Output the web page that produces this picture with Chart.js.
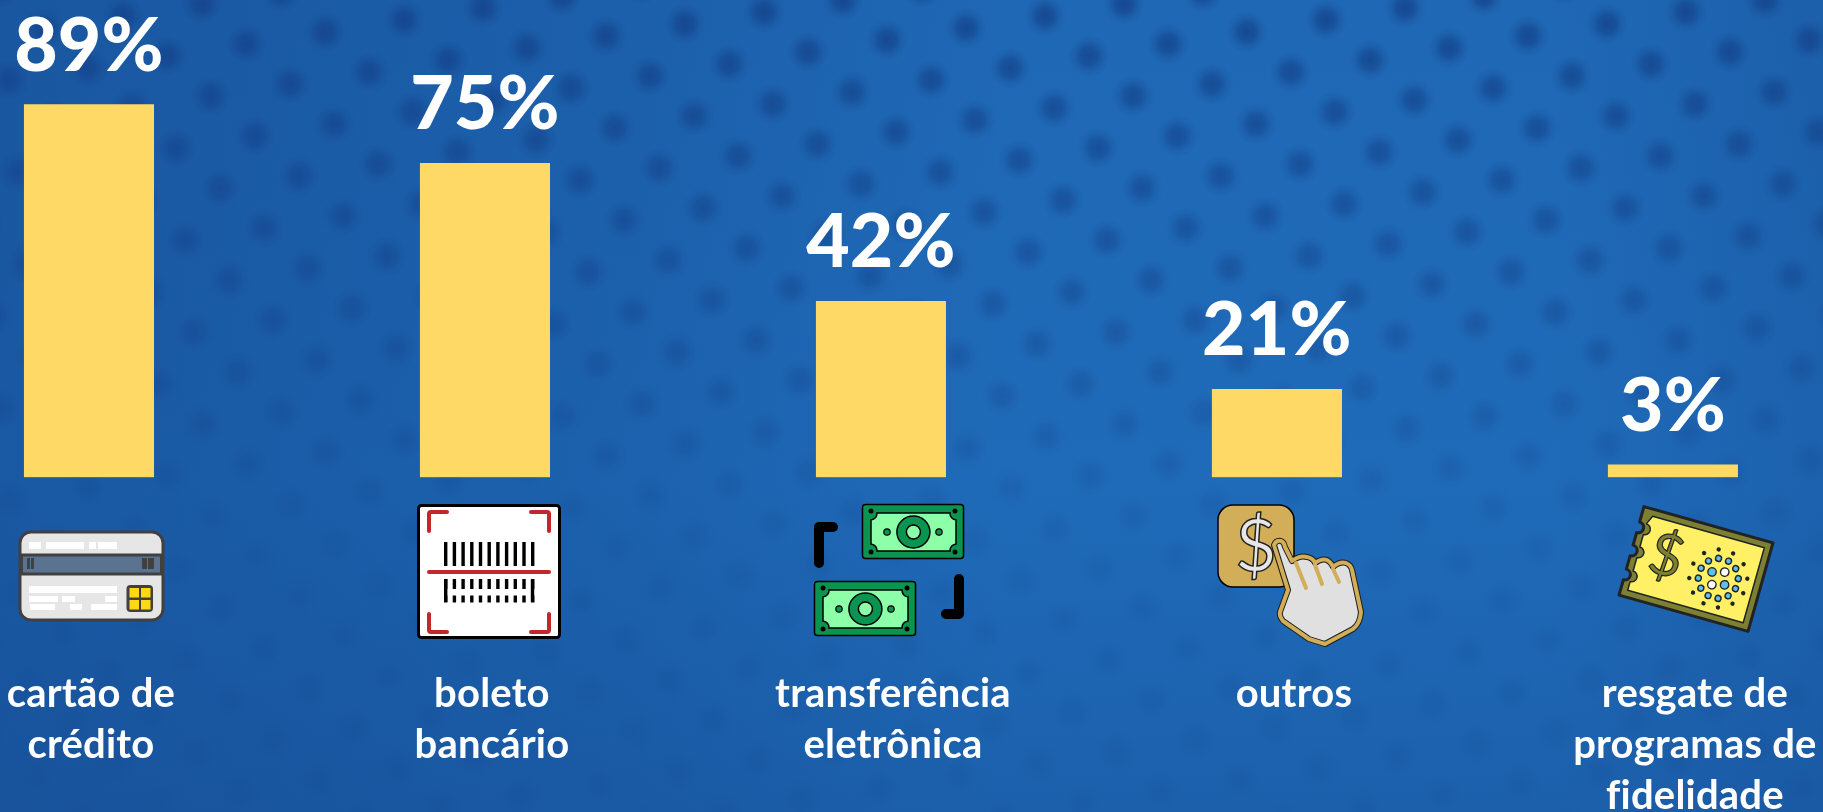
<!DOCTYPE html>
<html lang="pt-BR">

<head>
  <meta charset="utf-8">
  <title>Formas de pagamento</title>
  <script src="https://cdn.jsdelivr.net/npm/chart.js"></script>
  <style>
    html, body { margin: 0; padding: 0; background: #1b5ba6; overflow: hidden; }
    #wrap { position: relative; width: 1823px; height: 812px; }
    #myChart { position: absolute; left: 0; top: 0; }
    #icons { position: absolute; left: 0; top: 0; }
  </style>
</head>

<body>
  <div id="wrap">
    <canvas id="myChart" width="1823" height="812"></canvas>

    <!-- icons under each bar -->
    <svg id="icons" width="1823" height="812" viewBox="0 0 1823 812" font-family="Lato" aria-hidden="true">
      <!-- credit card -->
      <rect x="20" y="532" width="143" height="88" rx="11" fill="#e6e6e6" stroke="#404040" stroke-width="3" />
      <rect x="21.5" y="555" width="140" height="19" fill="#5a7391" stroke="#404040" stroke-width="3" />
      <g fill="#fff">
        <rect x="29" y="542" width="12" height="7" /><rect x="46" y="542" width="38" height="7" />
        <rect x="89" y="542" width="7" height="7" /><rect x="98" y="542" width="19" height="7" />
        <rect x="29" y="586" width="88" height="7" />
        <rect x="29" y="596" width="29" height="6" /><rect x="62" y="596" width="13" height="6" /><rect x="105" y="596" width="12" height="6" />
        <rect x="30" y="604" width="25" height="6" /><rect x="70" y="604" width="12" height="6" /><rect x="91" y="604" width="26" height="6" />
      </g>
      <g fill="#404040">
        <rect x="27" y="558" width="3" height="11" /><rect x="31" y="558" width="3" height="11" />
        <rect x="142" y="558" width="5" height="11" /><rect x="148" y="558" width="6" height="11" />
        <rect x="126.5" y="585" width="26.5" height="27" rx="4" />
      </g>
      <g fill="#ffd814">
        <rect x="129.5" y="588" width="9.5" height="9.5" /><rect x="141" y="588" width="9.5" height="9.5" />
        <rect x="129.5" y="600" width="9.5" height="9.5" /><rect x="141" y="600" width="9.5" height="9.5" />
      </g>

      <!-- barcode -->
      <rect x="418.5" y="505.5" width="141" height="132" rx="3" fill="#fff" stroke="#000" stroke-width="3" />
      <g fill="none" stroke="#c1272d" stroke-width="4" stroke-linecap="round" stroke-linejoin="round">
        <path d="M429,531 V514 Q429,512 431,512 H447" />
        <path d="M531,512 H547 Q549,512 549,514 V531" />
        <path d="M429,614 V630 Q429,632 431,632 H447" />
        <path d="M531,632 H547 Q549,632 549,630 V614" />
        <path d="M429,572 H549" />
      </g>
      <g fill="none" stroke="#000">
        <line x1="444" y1="554" x2="535" y2="554" stroke-width="24" stroke-dasharray="3.4 5.3" />
        <line x1="444" y1="584" x2="535" y2="584" stroke-width="10" stroke-dasharray="3.4 5.3" />
        <line x1="444" y1="599" x2="535" y2="599" stroke-width="7" stroke-dasharray="3.4 5.3" />
        <line x1="445.7" y1="579" x2="445.7" y2="602" stroke-width="3.4" />
        <line x1="532.5" y1="579" x2="532.5" y2="602" stroke-width="3.4" />
      </g>

      <!-- transfer: two notes and two brackets -->
      <g id="note">
        <rect x="862.5" y="504.5" width="101" height="54" rx="3" fill="#0b9350" stroke="#000" stroke-width="1.5" />
        <path d="M877,513 H950 Q950,519 956,520 V544 Q950,545 950,551 H877 Q877,545 871,544 V520 Q877,519 877,513 Z" fill="#8dffa9" stroke="#000" stroke-width="1.5" />
        <ellipse cx="913.4" cy="532" rx="16.5" ry="16" fill="#0b9350" stroke="#000" stroke-width="1.5" />
        <ellipse cx="913.4" cy="532" rx="7" ry="7" fill="#8dffa9" stroke="#000" stroke-width="1.5" />
        <circle cx="887" cy="532" r="3.2" fill="#0b9350" stroke="#000" stroke-width="1.2" />
        <circle cx="939" cy="532" r="3.2" fill="#0b9350" stroke="#000" stroke-width="1.2" />
        <circle cx="871" cy="511" r="2.5" fill="#000" /><circle cx="955" cy="511" r="2.5" fill="#000" />
        <circle cx="871" cy="552" r="2.5" fill="#000" /><circle cx="955" cy="552" r="2.5" fill="#000" />
      </g>
      <use href="#note" x="-48" y="77" />
      <path d="M819,563 V527 H833 M959,579 V614 H946" fill="none" stroke="#000" stroke-width="10" stroke-linecap="round" stroke-linejoin="round" />

      <!-- dollar button with hand -->
      <rect x="1218" y="505" width="76" height="82" rx="15" fill="#d1ae57" stroke="#000" stroke-width="1.5" />
      <text x="1256" y="571" text-anchor="middle" font-size="72" fill="#e6e6e6" stroke="#222" stroke-width="1.5">$</text>
      <path d="M1274,545 Q1276,540 1281,541 Q1284,542 1285,547 L1292,561 Q1300,555 1307,557 Q1313,558 1315,563 Q1322,558 1327,560 Q1331,562 1333,567 Q1340,561 1346,563 Q1351,565 1352,570 L1361,612 Q1360,624 1353,629 L1325,644 L1309,639 L1283,621 Q1279,616 1280,612 L1288,590 Z" fill="#e0e0e0" stroke="#1c1c1c" stroke-width="6" stroke-linejoin="round" />
      <path d="M1274,545 Q1276,540 1281,541 Q1284,542 1285,547 L1292,561 Q1300,555 1307,557 Q1313,558 1315,563 Q1322,558 1327,560 Q1331,562 1333,567 Q1340,561 1346,563 Q1351,565 1352,570 L1361,612 Q1360,624 1353,629 L1325,644 L1309,639 L1283,621 Q1279,616 1280,612 L1288,590 Z" fill="none" stroke="#d1ae57" stroke-width="4" stroke-linejoin="round" />
      <path d="M1296,563 L1306,588 M1315,565 L1322,584 M1333,569 L1339,582" fill="none" stroke="#d1ae57" stroke-width="4" stroke-linecap="round" />

      <!-- coupon -->
      <g transform="translate(1696,569) rotate(15.7)">
        <path d="M-67,-46 H67 V46 H-67 V30 a5.5,5.5 0 0 0 0,-11 V5 a5.5,5.5 0 0 0 0,-11 V-19 a5.5,5.5 0 0 0 0,-11 Z" fill="#7c8032" stroke="#222" stroke-width="3" stroke-linejoin="round" />
        <path d="M-56,-39 H60 V39 H-60 V30 a5.5,5.5 0 0 0 0,-11 V5 a5.5,5.5 0 0 0 0,-11 V-19 a5.5,5.5 0 0 0 0,-11 Z" fill="#fff066" stroke="#222" stroke-width="1.5" stroke-linejoin="round" />
        <text x="-32" y="15" text-anchor="middle" font-size="58" fill="#7c8032" stroke="#222" stroke-width="1.2">$</text>
        <g id="dots" transform="translate(24,3)"></g>
      </g>
    </svg>
  </div>

  <script>
    const categories = [
      ['cartão de', 'crédito'],
      ['boleto', 'bancário'],
      ['transferência', 'eletrônica'],
      ['outros'],
      ['resgate de', 'programas de', 'fidelidade']
    ];
    const values = [89, 75, 42, 21, 3];

    // the dots of the coupon icon
    let dotsHtml = '';
    for (let i = 0; i < 12; i++) {
      const a = (i * 30 + 15) * Math.PI / 180;
      dotsHtml += `<circle cx="${29 * Math.cos(a)}" cy="${29 * Math.sin(a)}" r="2.2" fill="#222"/>`;
      dotsHtml += `<circle cx="${20 * Math.cos(a)}" cy="${20 * Math.sin(a)}" r="3" fill="#5cc0ee" stroke="#222" stroke-width="1.4"/>`;
    }
    for (let i = 0; i < 4; i++) {
      const a = (i * 90 + 30) * Math.PI / 180;
      const fill = i % 2 ? '#fff' : '#5cc0ee';
      dotsHtml += `<circle cx="${9 * Math.cos(a)}" cy="${9 * Math.sin(a)}" r="4.2" fill="${fill}" stroke="#222" stroke-width="1.4"/>`;
    }
    document.getElementById('dots').innerHTML = dotsHtml;

    // blue cloth with dark blurred dots
    const clothBackground = {
      id: 'clothBackground',
      beforeDraw(chart) {
        const ctx = chart.ctx;
        const w = chart.width;
        const h = chart.height;
        ctx.save();
        let g = ctx.createLinearGradient(0, 0, 0, h);
        g.addColorStop(0, '#1f68b5');
        g.addColorStop(0.6, '#1f6bb9');
        g.addColorStop(1, '#1c60ac');
        ctx.fillStyle = g;
        ctx.fillRect(0, 0, w, h);
        g = ctx.createLinearGradient(0, 0, w, 0);
        g.addColorStop(0, 'rgba(20,70,140,0.5)');
        g.addColorStop(0.35, 'rgba(20,70,140,0.25)');
        g.addColorStop(0.55, 'rgba(20,70,140,0)');
        g.addColorStop(0.85, 'rgba(20,70,140,0)');
        g.addColorStop(1, 'rgba(20,70,140,0.25)');
        ctx.fillStyle = g;
        ctx.fillRect(0, 0, w, h);

        for (let i = -40; i < 40; i++) {
          for (let j = -40; j < 40; j++) {
            const x = 1247 + i * 79 + j * 44;
            const y = 32 - i * 12 + j * 40;
            if (x < -30 || x > w + 30 || y < -30 || y > h + 30) continue;
            const fade = Math.max(0.16, 0.88 - y / 750);
            const r = 21;
            const dot = ctx.createRadialGradient(x, y, 0, x, y, r);
            dot.addColorStop(0, `rgba(20,68,140,${fade})`);
            dot.addColorStop(0.4, `rgba(20,68,140,${fade * 0.75})`);
            dot.addColorStop(0.7, `rgba(20,68,140,${fade * 0.28})`);
            dot.addColorStop(1, 'rgba(20,68,140,0)');
            ctx.fillStyle = dot;
            ctx.fillRect(x - r, y - r, r * 2, r * 2);
          }
        }
        ctx.restore();
      }
    };

    // percent above each bar, category name below the icon
    const barTexts = {
      id: 'barTexts',
      afterDatasetsDraw(chart) {
        const ctx = chart.ctx;
        const bars = chart.getDatasetMeta(0).data;
        ctx.save();
        ctx.fillStyle = '#fff';
        ctx.textAlign = 'center';
        ctx.textBaseline = 'alphabetic';
        ctx.letterSpacing = '0.2px'; // also keeps the "fi" apart
        bars.forEach((bar, i) => {
          ctx.font = '900 75px Lato';
          ctx.fillText(values[i] + '%', bar.x, bar.y - 34);
          ctx.font = '700 40px Lato';
          categories[i].forEach((line, k) => {
            ctx.fillText(line, bar.x + 2 + 5 * i, 707 + k * 51);
          });
        });
        ctx.restore();
      }
    };

    new Chart(document.getElementById('myChart'), {
      type: 'bar',
      data: {
        datasets: [{
          data: values.map((v, i) => ({ x: i, y: v })),
          backgroundColor: '#FFD966',
          borderWidth: 0,
          barThickness: 129.4
        }]
      },
      options: {
        responsive: false,
        animation: false,
        layout: { padding: { bottom: 334.7 } },
        plugins: { legend: { display: false }, tooltip: { enabled: false } },
        scales: {
          x: { type: 'linear', display: false, offset: false, min: -0.2247, max: 4.379 },
          y: { display: false, min: 0, max: 114 }
        }
      },
      plugins: [clothBackground, barTexts]
    });
  </script>
</body>

</html>
